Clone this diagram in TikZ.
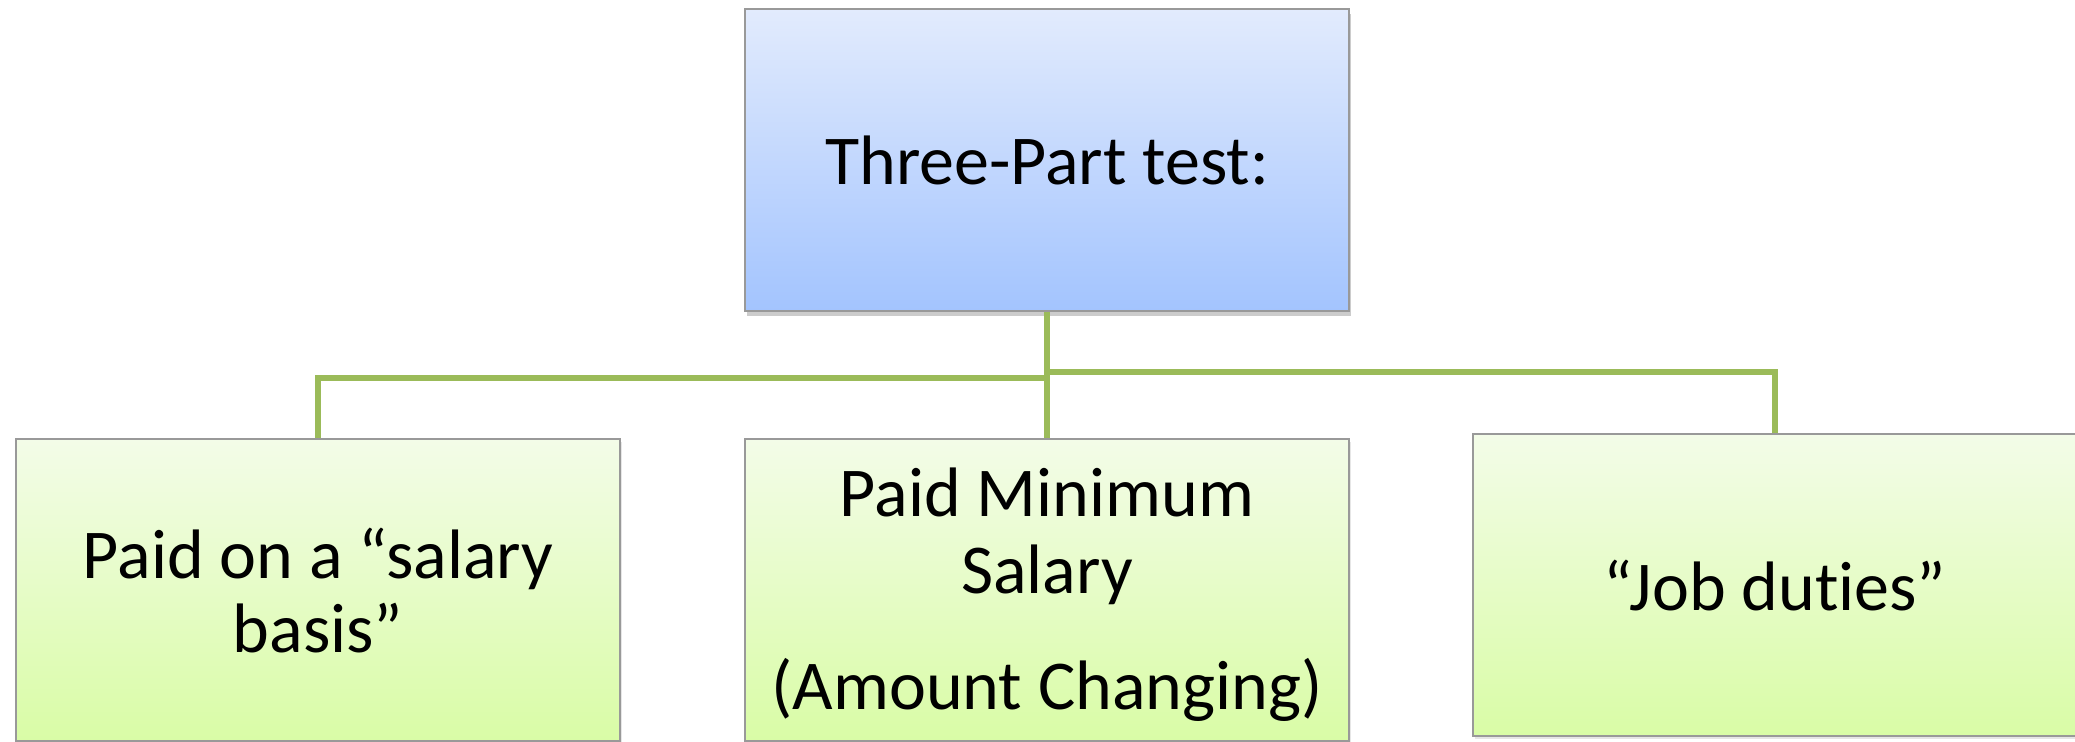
\documentclass[tikz,border=0pt]{standalone}
\usepackage{fontspec}
\setmainfont[Ligatures=NoCommon]{Carlito}
\usetikzlibrary{shadows}

\definecolor{topblue}{RGB}{226,235,253}
\definecolor{botblue}{RGB}{163,196,254}
\definecolor{topgreen}{RGB}{243,252,232}
\definecolor{botgreen}{RGB}{217,252,166}
\definecolor{linkgreen}{RGB}{155,187,89}

\tikzset{
  headbox/.style={draw=gray!80, line width=0.6pt, top color=topblue, bottom color=botblue,
    minimum width=302pt, minimum height=151pt, align=center, inner sep=0pt,
    drop shadow={shadow xshift=1pt, shadow yshift=-2.5pt, opacity=0.4}},
  partbox/.style={draw=gray!80, line width=0.6pt, top color=topgreen, bottom color=botgreen,
    minimum width=302pt, minimum height=151pt, align=center, inner sep=0pt,
    drop shadow={shadow xshift=1pt, shadow yshift=-1.5pt, opacity=0.2}},
  link/.style={draw=linkgreen, line width=2.7pt}
}

\begin{document}
\begin{tikzpicture}[x=0.5pt,y=-0.5pt,font=\fontsize{35}{37}\selectfont]
\useasboundingbox (0,0) rectangle (2075,741);

\node[headbox] (test) at (1047,160) {Three-Part test:};

\node[partbox] (basis) at (318,590) {Paid on a “salary\\basis”};
\node[partbox] (minimum) at (1047,590) {\raisebox{-4pt}[\height][\depth]{\begin{tabular}{@{}c@{}}Paid Minimum\\[1.5pt]Salary\\[21pt](Amount Changing)\end{tabular}}};
\node[partbox] (duties) at (1775,585) {“Job duties”};

\draw[link] (test.south) -- (minimum.north);
\draw[link] (test.south |- 0,378) -| (basis.north);
\draw[link] (test.south |- 0,372) -| (duties.north);

\end{tikzpicture}
\end{document}
